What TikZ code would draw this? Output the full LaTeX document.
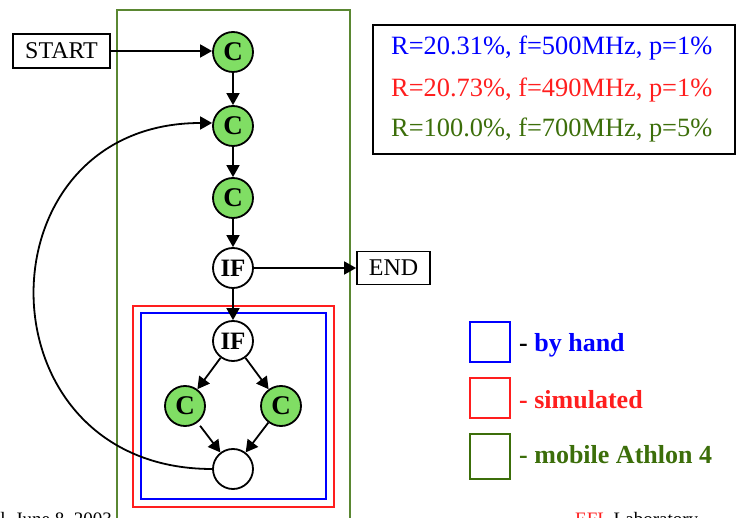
\documentclass[tikz,border=0pt]{standalone}
\usepackage{fontspec}
\setmainfont{Liberation Serif}
\usetikzlibrary{arrows.meta}
\definecolor{cgreen}{RGB}{128,222,100}
\definecolor{dgreen}{RGB}{60,110,10}
\definecolor{rgreen}{RGB}{90,135,50}
\definecolor{myred}{RGB}{255,30,30}
\definecolor{myblue}{RGB}{0,0,255}
\tikzset{
  cnode/.style={circle,draw,line width=1.8pt,fill=cgreen,minimum size=40pt,inner sep=0pt,font=\fontsize{27}{27}\selectfont\bfseries},
  ifnode/.style={circle,draw,line width=1.8pt,fill=white,minimum size=40pt,inner sep=0pt,font=\fontsize{25}{25}\selectfont\bfseries},
  termbox/.style={draw,line width=1.8pt,inner sep=0pt,font=\fontsize{24}{24}\selectfont},
  arr/.style={line width=1.8pt,-{Triangle[length=12pt,width=13pt]}},
  legbox/.style={draw,line width=2pt,minimum size=40pt,inner sep=0pt},
  legtext/.style={anchor=base west,font=\fontsize{26}{26}\selectfont\bfseries,inner sep=0pt},
  datatext/.style={anchor=base west,font=\fontsize{26.4}{26.4}\selectfont,inner sep=0pt},
  foot/.style={font=\fontsize{19}{19}\selectfont,inner sep=0pt}
}
\begin{document}
\begin{tikzpicture}[x=1pt,y=-1pt]
\useasboundingbox (0,0) rectangle (736,518);
\clip (0,0) rectangle (736,518);
% frames
\draw[rgreen,line width=1.3pt] (117,10) rectangle (350,540);
\draw[myred,line width=2pt] (133,306) rectangle (334,507);
\draw[myblue,line width=2pt] (141,313) rectangle (326,499);
% nodes
\node[termbox,minimum width=97pt,minimum height=34pt] (start) at (61.5,51) {START};
\node[cnode] (c1) at (233,52) {C};
\node[cnode] (c2) at (233,126) {C};
\node[cnode] (c3) at (233,198) {C};
\node[ifnode] (if1) at (233,268) {IF};
\node[termbox,minimum width=73pt,minimum height=33pt] (end) at (393.5,268) {END};
\node[ifnode] (if2) at (233,341) {IF};
\node[cnode] (cl) at (185,406) {C};
\node[cnode] (cr) at (281,406) {C};
\node[ifnode] (bot) at (233,469) {};
% connectors
\draw[arr] (start.east) -- (start.east -| c1.west);
\draw[arr] (c1) -- (c2);
\draw[arr] (c2) -- (c3);
\draw[arr] (c3) -- (if1);
\draw[arr] (if1) -- (end);
\draw[arr] (if1) -- (if2);
\draw[arr] (if2) -- (cl);
\draw[arr] (if2) -- (cr);
\draw[arr,shorten <=4pt] (cl) -- (bot);
\draw[arr] (cr) -- (bot);
\draw[arr] (bot.west) to[out=180,in=180,looseness=1.75] ([yshift=3pt]c2.west);
% data box
\node[draw,line width=1.8pt,minimum width=362pt,minimum height=129pt,inner sep=0pt] (data) at (554,89.5) {};
\node[datatext,myblue] (d1) at (391,55) {R=20.31\%, f=500MHz, p=1\%};
\node[datatext,myred] (d2) at (391,97) {R=20.73\%, f=490MHz, p=1\%};
\node[datatext,dgreen] (d3) at (391,137) {R=100.0\%, f=700MHz, p=5\%};
% legend
\node[legbox,myblue] (lb) at (489.5,342) {};
\node[legbox,myred] (lr) at (489.5,398) {};
\node[legbox,dgreen,minimum height=45pt] (lg) at (489.5,456) {};
\node[legtext] (tb) at (519,352) {-~\textcolor{myblue}{by hand}};
\node[legtext,myred] (tr) at (519,408) {- simulated};
\node[legtext,dgreen] (tg) at (519,463) {- mobile Athlon 4};
% footers
\node[foot,anchor=base east] (f1) at (112,525) {al, June 8, 2003};
\node[foot,anchor=base west] (f2) at (575,525) {\textcolor{myred}{EFL} Laboratory};
\end{tikzpicture}
\end{document}
